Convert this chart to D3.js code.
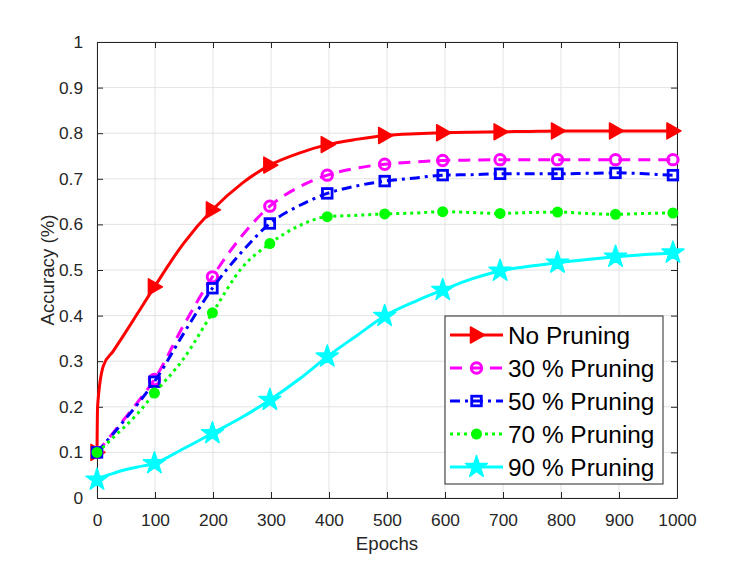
<!DOCTYPE html>
<html>
<head>
<meta charset="utf-8">
<script src="https://cdn.jsdelivr.net/npm/d3@7"></script>
<style>
  body { margin: 0; background: #fff; }
  text { font-family: "Liberation Sans", Arial, sans-serif; fill: #262626; }
</style>
</head>
<body>
<svg id="chart" width="747" height="561"></svg>
<script>
// values
const epochs = [0, 1, 11, 28, 45, 70, 99, 149, 199, 250, 298, 350, 397, 450, 496, 550, 596, 645, 695, 745, 794, 845, 894, 945, 993, 1000];
const noPruning = [0.10, 0.20, 0.29, 0.322, 0.355, 0.405, 0.463, 0.558, 0.632, 0.690, 0.730, 0.757, 0.775, 0.787, 0.795, 0.799, 0.801, 0.802, 0.803, 0.804, 0.805, 0.805, 0.805, 0.805, 0.805, 0.805];
const pruning30 = [0.10, 0.102, 0.117, 0.143, 0.170, 0.210, 0.26, 0.378, 0.485, 0.575, 0.640, 0.683, 0.708, 0.724, 0.732, 0.737, 0.740, 0.741, 0.742, 0.742, 0.742, 0.742, 0.742, 0.742, 0.742, 0.742];
const pruning50 = [0.10, 0.101, 0.116, 0.141, 0.167, 0.206, 0.255, 0.36, 0.46, 0.54, 0.602, 0.642, 0.668, 0.685, 0.695, 0.702, 0.708, 0.709, 0.711, 0.711, 0.711, 0.712, 0.713, 0.711, 0.708, 0.708];
const pruning70 = [0.10, 0.101, 0.112, 0.133, 0.153, 0.185, 0.23, 0.305, 0.406, 0.505, 0.558, 0.598, 0.617, 0.620, 0.623, 0.625, 0.628, 0.626, 0.624, 0.626, 0.627, 0.624, 0.622, 0.624, 0.625, 0.625];
const pruning90 = [0.04, 0.041, 0.047, 0.054, 0.061, 0.068, 0.076, 0.108, 0.142, 0.177, 0.215, 0.262, 0.31, 0.358, 0.399, 0.432, 0.456, 0.48, 0.498, 0.508, 0.516, 0.523, 0.529, 0.534, 0.538, 0.540];
const markerEpochs = [0, 99, 199, 298, 397, 496, 596, 695, 794, 894, 993];
const seriesNames = ["No Pruning", "30 % Pruning", "50 % Pruning", "70 % Pruning", "90 % Pruning"];
const xTicks = [0, 100, 200, 300, 400, 500, 600, 700, 800, 900, 1000];
const yTicks = [0, 0.1, 0.2, 0.3, 0.4, 0.5, 0.6, 0.7, 0.8, 0.9, 1];

const series = [
  { name: seriesNames[0], values: noPruning, color: "#ff0000", dash: null, marker: "triangle" },
  { name: seriesNames[1], values: pruning30, color: "#ff00ff", dash: "12,8", marker: "circle" },
  { name: seriesNames[2], values: pruning50, color: "#0000ff", dash: "10,5,3,5", marker: "square" },
  { name: seriesNames[3], values: pruning70, color: "#00ff00", dash: "3,4", marker: "dot" },
  { name: seriesNames[4], values: pruning90, color: "#00ffff", dash: null, marker: "star" }
];

const svg = d3.select("#chart");
const margin = { top: 42, right: 70, bottom: 63, left: 97 };
const width = 747 - margin.left - margin.right;
const height = 561 - margin.top - margin.bottom;

svg.append("rect").attr("width", 747).attr("height", 561).attr("fill", "#fff");

const g = svg.append("g").attr("transform", `translate(${margin.left},${margin.top})`);

const x = d3.scaleLinear().domain([0, 1000]).range([0, width]);
const y = d3.scaleLinear().domain([0, 1]).range([height, 0]);

// grid
const gridG = g.append("g").attr("class", "grid");
gridG.selectAll("line.gx").data(xTicks).join("line")
  .attr("class", "gx")
  .attr("x1", (d) => x(d)).attr("x2", (d) => x(d))
  .attr("y1", 0).attr("y2", height)
  .attr("stroke", "#e3e3e3").attr("stroke-width", 1);
gridG.selectAll("line.gy").data(yTicks).join("line")
  .attr("class", "gy")
  .attr("y1", (d) => y(d)).attr("y2", (d) => y(d))
  .attr("x1", 0).attr("x2", width)
  .attr("stroke", "#e3e3e3").attr("stroke-width", 1);

// axes (ticks inward, box on)
const tickLen = 6;
const fmtX = (d) => String(d);
const fmtY = (d) => (d === 0 || d === 1 ? String(d) : d3.format(".1f")(d));
const axisStyle = (sel) => {
  sel.select(".domain").attr("stroke", "#262626");
  sel.selectAll(".tick line").attr("stroke", "#262626");
  sel.selectAll(".tick text").style("font-size", "17.3px").attr("fill", "#262626");
};

g.append("g").attr("transform", `translate(0,${height})`)
  .call(d3.axisBottom(x).tickValues(xTicks).tickSizeInner(-tickLen).tickSizeOuter(0).tickPadding(16).tickFormat(fmtX))
  .call(axisStyle);
g.append("g")
  .call(d3.axisTop(x).tickValues(xTicks).tickSizeInner(-tickLen).tickSizeOuter(0).tickFormat(""))
  .call(axisStyle);
g.append("g")
  .call(d3.axisLeft(y).tickValues(yTicks).tickSizeInner(-tickLen).tickSizeOuter(0).tickPadding(14).tickFormat(fmtY))
  .call(axisStyle);
g.append("g").attr("transform", `translate(${width},0)`)
  .call(d3.axisRight(y).tickValues(yTicks).tickSizeInner(-tickLen).tickSizeOuter(0).tickFormat(""))
  .call(axisStyle);

// axis labels
g.append("text")
  .attr("x", width / 2).attr("y", height + 52)
  .attr("text-anchor", "middle")
  .style("font-size", "18.7px")
  .text("Epochs");
g.append("text")
  .attr("transform", `translate(${-43},${height / 2}) rotate(-90)`)
  .attr("text-anchor", "middle")
  .style("font-size", "18.7px")
  .text("Accuracy (%)");

// marker shapes
function drawMarker(sel, type, color) {
  if (type === "triangle") {
    sel.append("path").attr("d", "M8,0L-6,-8L-6,8Z")
      .attr("fill", color).attr("stroke", color).attr("stroke-width", 1.5).attr("stroke-linejoin", "round");
  } else if (type === "circle") {
    sel.append("circle").attr("r", 5.2)
      .attr("fill", "none").attr("stroke", color).attr("stroke-width", 3);
  } else if (type === "square") {
    sel.append("rect").attr("x", -4.8).attr("y", -4.8).attr("width", 9.6).attr("height", 9.6)
      .attr("fill", "none").attr("stroke", color).attr("stroke-width", 2.8);
  } else if (type === "dot") {
    sel.append("circle").attr("r", 5.5).attr("fill", color);
  } else if (type === "star") {
    sel.append("path")
      .attr("d", d3.symbol().type(d3.symbolStar).size(150)())
      .attr("fill", color).attr("stroke", color).attr("stroke-width", 1.5).attr("stroke-linejoin", "round");
  }
}

// lines + markers
const line = d3.line()
  .x((d) => x(d[0]))
  .y((d) => y(d[1]))
  .curve(d3.curveMonotoneX);

const dataG = g.append("g").attr("class", "series");
series.forEach((s) => {
  const pts = epochs.map((e, i) => [e, s.values[i]]);
  dataG.append("path")
    .datum(pts)
    .attr("fill", "none")
    .attr("stroke", s.color)
    .attr("stroke-width", 3)
    .attr("stroke-dasharray", s.dash)
    .attr("stroke-linejoin", "round")
    .attr("d", line);

  const mpts = pts.filter((p) => markerEpochs.includes(p[0]));
  mpts.forEach((p) => {
    const mg = dataG.append("g").attr("transform", `translate(${x(p[0])},${y(p[1])})`);
    drawMarker(mg, s.marker, s.color);
  });
});

// legend
const legX = 445 - margin.left;
const legY = 316 - margin.top;
const legW = 218;
const legH = 168;
const legend = g.append("g").attr("transform", `translate(${legX},${legY})`);
legend.append("rect")
  .attr("width", legW).attr("height", legH)
  .attr("fill", "#fff").attr("stroke", "#262626").attr("stroke-width", 1);

series.forEach((s, i) => {
  const cy = 19 + i * 33;
  const row = legend.append("g").attr("transform", `translate(0,${cy})`);
  row.append("line")
    .attr("x1", 5).attr("x2", 58)
    .attr("stroke", s.color).attr("stroke-width", 3)
    .attr("stroke-dasharray", s.dash);
  const mg = row.append("g").attr("transform", "translate(31.5,0)");
  drawMarker(mg, s.marker, s.color);
  row.append("text")
    .attr("x", 63).attr("y", 8.5)
    .style("font-size", "24.4px")
    .style("fill", "#000")
    .text(s.name);
});
</script>
</body>
</html>
